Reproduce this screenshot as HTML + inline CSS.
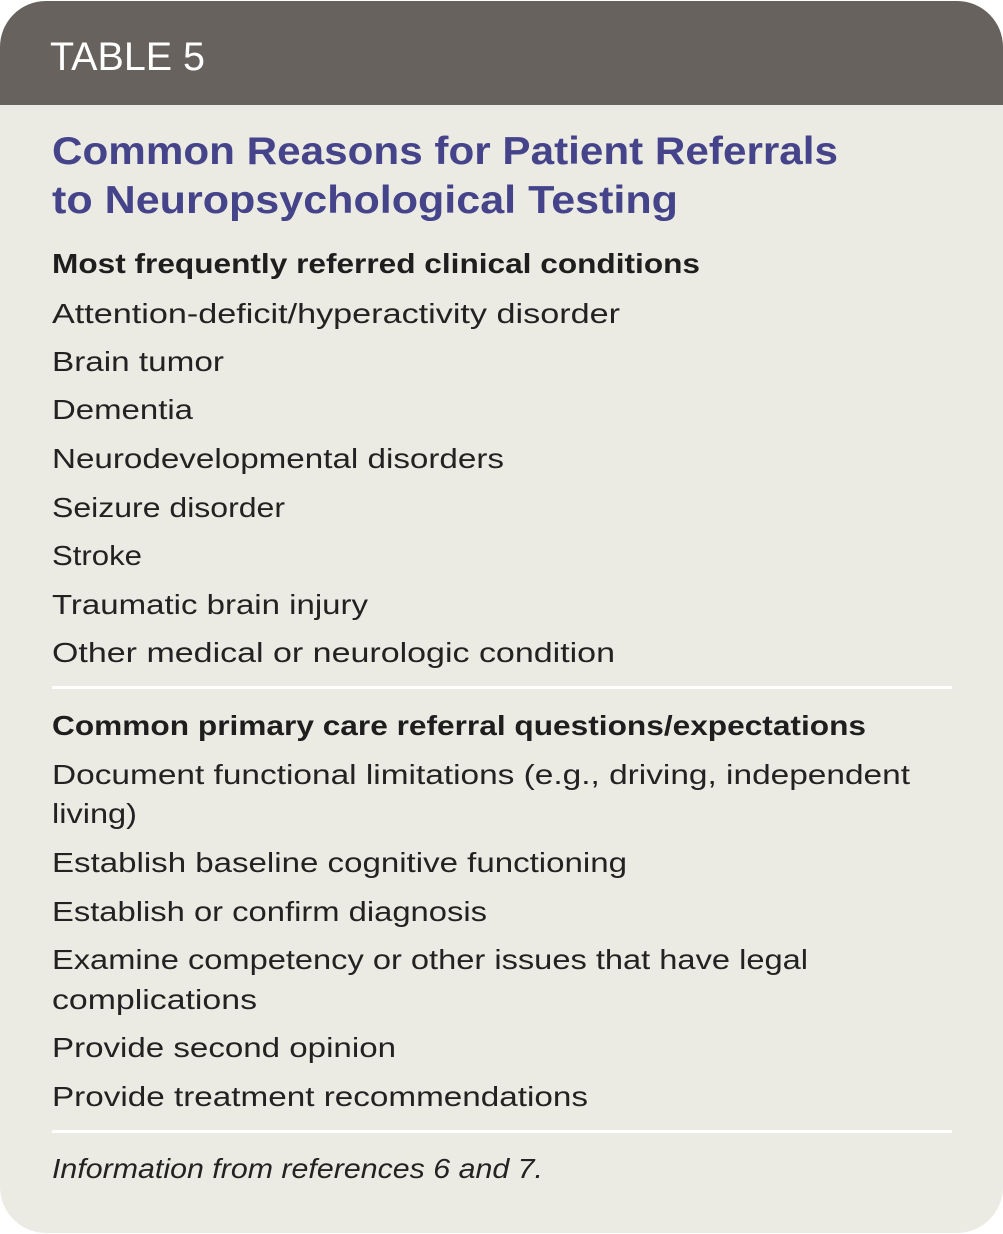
<!DOCTYPE html>
<html><head><meta charset="utf-8"><style>
html,body{margin:0;padding:0;background:#fff;}
svg{display:block;}
.t{font-family:"Liberation Sans",sans-serif;font-size:28px;fill:#222;}
.b{font-weight:bold;fill:#1e1e1e;}
.h{font-family:"Liberation Sans",sans-serif;font-weight:bold;font-size:39px;fill:#45448a;}
</style></head><body>
<svg width="1003" height="1234" viewBox="0 0 1003 1234" xmlns="http://www.w3.org/2000/svg">
<defs><clipPath id="c"><rect x="0" y="1" width="1003" height="1232" rx="46" ry="46"/></clipPath></defs>
<g clip-path="url(#c)">
<rect x="0" y="0" width="1003" height="1234" fill="#ecebe3"/>
<rect x="0" y="0" width="1003" height="105" fill="#68625f"/>
</g>
<text x="50" y="70" font-family="Liberation Sans, sans-serif" font-size="40" fill="#fff" textLength="155" lengthAdjust="spacingAndGlyphs">TABLE 5</text>
<text class="h" x="52" y="164" textLength="786" lengthAdjust="spacingAndGlyphs">Common Reasons for Patient Referrals</text>
<text class="h" x="52" y="213" textLength="626" lengthAdjust="spacingAndGlyphs">to Neuropsychological Testing</text>
<text class="t b" x="52" y="273" textLength="648" lengthAdjust="spacingAndGlyphs">Most frequently referred clinical conditions</text>
<text class="t" x="52" y="323" textLength="568" lengthAdjust="spacingAndGlyphs">Attention-deficit/hyperactivity disorder</text>
<text class="t" x="52" y="371" textLength="172" lengthAdjust="spacingAndGlyphs">Brain tumor</text>
<text class="t" x="52" y="419" textLength="141" lengthAdjust="spacingAndGlyphs">Dementia</text>
<text class="t" x="52" y="468" textLength="452" lengthAdjust="spacingAndGlyphs">Neurodevelopmental disorders</text>
<text class="t" x="52" y="517" textLength="233" lengthAdjust="spacingAndGlyphs">Seizure disorder</text>
<text class="t" x="52" y="565" textLength="90" lengthAdjust="spacingAndGlyphs">Stroke</text>
<text class="t" x="52" y="614" textLength="316" lengthAdjust="spacingAndGlyphs">Traumatic brain injury</text>
<text class="t" x="52" y="662" textLength="563" lengthAdjust="spacingAndGlyphs">Other medical or neurologic condition</text>
<rect x="52" y="686" width="900" height="3" fill="#fff"/>
<text class="t b" x="52" y="735" textLength="814" lengthAdjust="spacingAndGlyphs">Common primary care referral questions/expectations</text>
<text class="t" x="52" y="784" textLength="858" lengthAdjust="spacingAndGlyphs">Document functional limitations (e.g., driving, independent</text>
<text class="t" x="52" y="823" textLength="85" lengthAdjust="spacingAndGlyphs">living)</text>
<text class="t" x="52" y="872" textLength="575" lengthAdjust="spacingAndGlyphs">Establish baseline cognitive functioning</text>
<text class="t" x="52" y="921" textLength="435" lengthAdjust="spacingAndGlyphs">Establish or confirm diagnosis</text>
<text class="t" x="52" y="969" textLength="756" lengthAdjust="spacingAndGlyphs">Examine competency or other issues that have legal</text>
<text class="t" x="52" y="1009" textLength="205" lengthAdjust="spacingAndGlyphs">complications</text>
<text class="t" x="52" y="1057" textLength="344" lengthAdjust="spacingAndGlyphs">Provide second opinion</text>
<text class="t" x="52" y="1106" textLength="536" lengthAdjust="spacingAndGlyphs">Provide treatment recommendations</text>
<rect x="52" y="1130" width="900" height="3" fill="#fff"/>
<text class="t" x="52" y="1178" font-style="italic" font-size="26" textLength="491" lengthAdjust="spacingAndGlyphs">Information from references 6 and 7.</text>
</svg>
</body></html>
